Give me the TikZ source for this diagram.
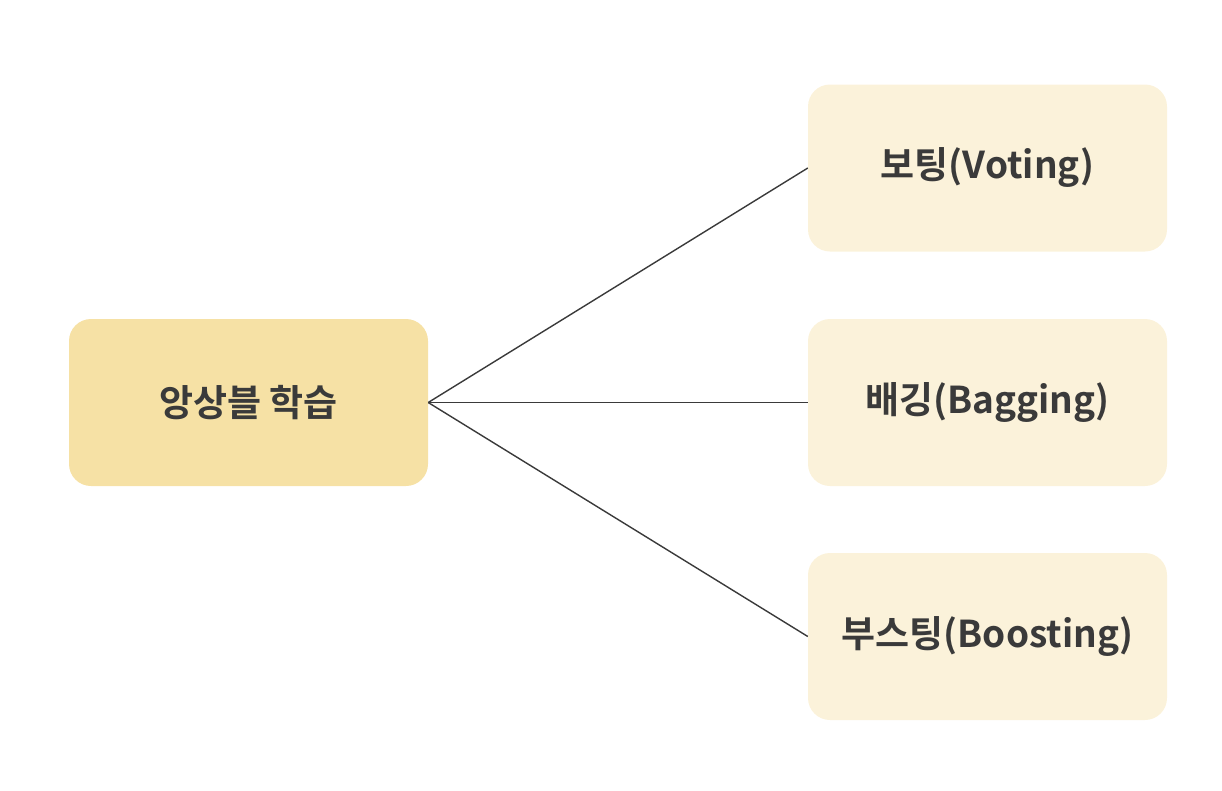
\documentclass[tikz,border=0pt]{standalone}
\usepackage{fontspec}
\newfontfamily\kr{Noto Sans CJK KR Bold}
\begin{document}
\begin{tikzpicture}[x=1pt,y=-1pt,
  box/.style={rounded corners=22pt, inner sep=0pt, minimum width=359pt, minimum height=167pt,
    font=\kr\fontsize{37}{44}\selectfont, text=txt},
  rootbox/.style={box, fill=rootfill},
  leafbox/.style={box, fill=leaffill},
  link/.style={draw=txt, line width=1.4pt}]
\definecolor{rootfill}{HTML}{F6E1A5}
\definecolor{leaffill}{HTML}{FBF2DA}
\definecolor{txt}{HTML}{3A3A3A}
\useasboundingbox (0,0) rectangle (1222,790);
\node[rootbox] (root) at (248.5,402.5) {앙상블 학습};
\node[leafbox] (vote) at (987.5,168) {보팅(Voting)};
\node[leafbox] (bag) at (987.5,402.5) {배깅(Bagging)};
\node[leafbox] (boost) at (987.5,636.5) {부스팅(Boosting)};
\draw[link] (root.east) -- (vote.west);
\draw[link] (root.east) -- (bag.west);
\draw[link] (root.east) -- (boost.west);
\end{tikzpicture}
\end{document}
